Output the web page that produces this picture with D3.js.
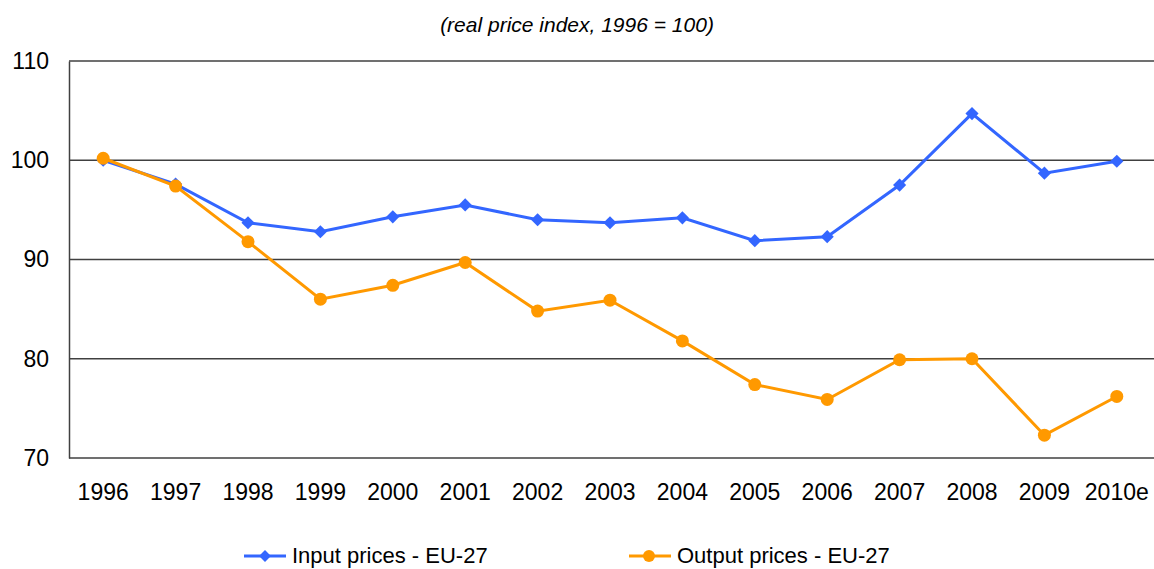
<!DOCTYPE html>
<html>
<head>
<meta charset="utf-8">
<script src="https://cdn.jsdelivr.net/npm/d3@7"></script>
<style>
    body { margin: 0; background: #fff; }
    text { font-family: "Liberation Sans", Arial, sans-serif; fill: #000; }
</style>
</head>
<body>
<svg id="chart" width="1154" height="569"></svg>
<script>
let years = ['1996', '1997', '1998', '1999', '2000', '2001', '2002', '2003', '2004', '2005', '2006', '2007', '2008', '2009', '2010e']
let inputPrices = [100.0, 97.6, 93.7, 92.8, 94.3, 95.5, 94.0, 93.7, 94.2, 91.9, 92.3, 97.5, 104.7, 98.7, 99.9]
let outputPrices = [100.2, 97.4, 91.8, 86.0, 87.4, 89.7, 84.8, 85.9, 81.8, 77.4, 75.9, 79.9, 80.0, 72.3, 76.2]
let yTicks = [70, 80, 90, 100, 110]
let seriesNames = ['Input prices - EU-27', 'Output prices - EU-27']

function plotLines() {
    let margin = {top: 61, right: 0, bottom: 111, left: 69}
    let svg = d3.select('#chart')
    let width = +svg.attr('width')
    let height = +svg.attr('height')

    let x = d3.scaleBand()
        .range([margin.left - 2, width - margin.right - 1])
        .domain(years)
    let y = d3.scaleLinear()
        .range([height - margin.bottom, margin.top])
        .domain([70, 110])

    // title
    svg.append('text')
        .attr('x', 577).attr('y', 32)
        .attr('text-anchor', 'middle')
        .style('font-style', 'italic')
        .style('font-size', '21px')
        .text('(real price index, 1996 = 100)')

    // gridlines
    svg.append('g').selectAll('line')
        .data(yTicks.slice(1))
        .enter().append('line')
        .attr('x1', margin.left).attr('x2', width)
        .attr('y1', d => y(d)).attr('y2', d => y(d))
        .attr('stroke', '#404040').attr('stroke-width', 1.5)

    // y axis
    let yAxis = svg.append('g')
        .attr('transform', 'translate(' + margin.left + ',0)')
        .call(d3.axisLeft(y).tickValues(yTicks).tickSize(0).tickPadding(20))
    yAxis.select('.domain').attr('stroke', '#404040').attr('stroke-width', 1.5)
    yAxis.selectAll('text').style('font-size', '23px').attr('fill', '#000')

    // x axis
    let xAxis = svg.append('g')
        .attr('transform', 'translate(0,' + y(70) + ')')
        .call(d3.axisBottom(x).tickSize(0).tickPadding(26))
    xAxis.select('.domain').attr('d', 'M' + margin.left + ',0H' + width)
        .attr('stroke', '#404040').attr('stroke-width', 1.5)
    xAxis.selectAll('text').style('font-size', '23px').attr('fill', '#000')

    let cx = d => x.bandwidth() / 2 + x(d)
    let line = d3.line()
        .x((d, i) => cx(years[i]))
        .y(d => y(d))

    // input series
    svg.append('path').datum(inputPrices)
        .attr('d', line).attr('fill', 'none')
        .attr('stroke', '#3366ff').attr('stroke-width', 3)
    svg.append('g').selectAll('path')
        .data(inputPrices).enter().append('path')
        .attr('d', d3.symbol().type(d3.symbolDiamond2).size(110))
        .attr('transform', (d, i) => 'translate(' + cx(years[i]) + ',' + y(d) + ')')
        .attr('fill', '#3366ff')

    // output series
    svg.append('path').datum(outputPrices)
        .attr('d', line).attr('fill', 'none')
        .attr('stroke', '#ff9900').attr('stroke-width', 3)
    svg.append('g').selectAll('circle')
        .data(outputPrices).enter().append('circle')
        .attr('cx', (d, i) => cx(years[i]))
        .attr('cy', d => y(d))
        .attr('r', 6.5)
        .attr('fill', '#ff9900')

    // legend
    let legendX = [244, 629]
    let colors = ['#3366ff', '#ff9900']
    let lg = svg.append('g').selectAll('g')
        .data(seriesNames).enter().append('g')
        .attr('transform', (d, i) => 'translate(' + legendX[i] + ',556)')
    lg.append('line')
        .attr('x1', 0).attr('x2', 42)
        .attr('stroke', (d, i) => colors[i]).attr('stroke-width', 3)
    lg.filter((d, i) => i === 0).append('path')
        .attr('d', d3.symbol().type(d3.symbolDiamond2).size(90))
        .attr('transform', 'translate(21,0)')
        .attr('fill', colors[0])
    lg.filter((d, i) => i === 1).append('circle')
        .attr('cx', 20).attr('r', 6)
        .attr('fill', colors[1])
    lg.append('text')
        .attr('x', 48).attr('y', 7)
        .style('font-size', '22px')
        .text(d => d)
}

plotLines()
</script>
</body>
</html>
